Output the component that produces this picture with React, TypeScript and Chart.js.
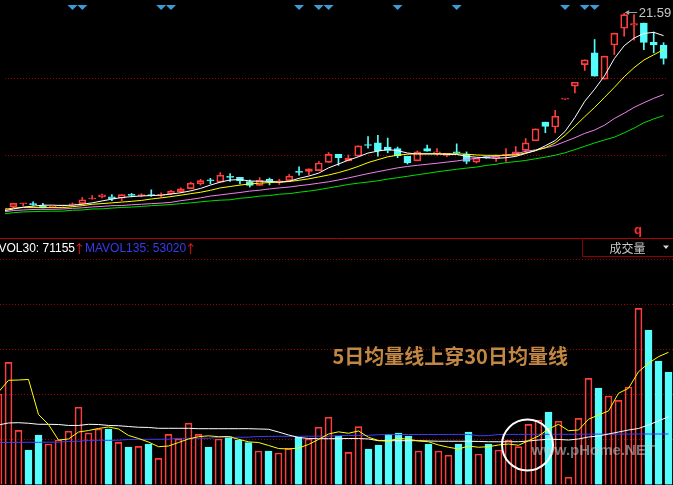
import { useEffect, useRef } from 'react';
import { Chart, registerables } from 'chart.js';

Chart.register(...registerables);

// Daily K-line data (68 sessions)
const opens = [
  6.28, 6.45, 6.69, 6.65, 6.55, 6.40, 6.53, 6.60, 6.70, 7.06,
  7.23, 7.23, 7.12, 7.39, 7.32, 7.36, 7.34, 7.48, 7.63, 7.87,
  8.25, 8.53, 8.38, 8.79, 8.75, 8.43, 8.13, 8.60, 8.41, 8.50,
  9.20, 9.22, 9.28, 9.93, 10.55, 10.05, 10.42, 11.30, 11.45, 11.13,
  11.00, 10.40, 10.05, 11.00, 10.63, 10.48, 10.75, 10.57, 9.95, 10.38,
  10.25, 10.48, 10.50, 10.87, 11.62, 13.08, 12.70, 14.88, 15.90, 17.58,
  18.50, 16.45, 19.12, 20.43, 20.68, 20.83, 19.33, 19.12,
];
const highs = [
  6.43, 6.73, 6.72, 6.85, 6.72, 6.46, 6.58, 6.75, 7.18, 7.33,
  7.45, 7.40, 7.40, 7.50, 7.48, 7.78, 7.55, 7.75, 7.93, 8.38,
  8.60, 8.68, 9.13, 9.05, 8.75, 8.55, 8.73, 8.70, 8.60, 8.98,
  9.58, 9.43, 10.00, 10.70, 10.55, 10.50, 11.23, 11.95, 12.05, 11.83,
  11.13, 10.40, 10.83, 11.28, 11.00, 10.63, 11.38, 10.75, 10.25, 10.40,
  10.50, 11.00, 11.17, 11.80, 12.55, 13.08, 14.00, 14.88, 16.20, 17.95,
  19.55, 18.25, 20.05, 21.59, 21.50, 20.83, 20.13, 19.30,
];
const lows = [
  6.20, 6.37, 6.54, 6.55, 6.37, 6.37, 6.50, 6.50, 6.63, 7.05,
  7.15, 6.93, 6.93, 7.23, 7.23, 7.27, 7.23, 7.40, 7.55, 7.87,
  8.15, 8.25, 8.38, 8.43, 8.25, 8.00, 8.13, 8.17, 8.20, 8.43,
  8.92, 8.95, 9.28, 9.93, 9.70, 10.05, 10.42, 11.05, 10.42, 10.68,
  10.30, 9.80, 10.05, 10.80, 10.50, 10.38, 10.63, 9.82, 9.88, 10.25,
  10.00, 10.00, 10.48, 10.70, 11.62, 12.25, 12.25, 14.88, 15.37, 17.13,
  16.68, 16.45, 18.37, 19.80, 19.50, 18.75, 18.50, 17.62,
];
const closes = [
  6.35, 6.72, 6.70, 6.62, 6.37, 6.43, 6.55, 6.67, 7.00, 7.08,
  7.38, 7.08, 7.40, 7.34, 7.36, 7.33, 7.42, 7.66, 7.85, 8.30,
  8.50, 8.49, 8.92, 8.75, 8.50, 8.13, 8.53, 8.43, 8.49, 8.85,
  9.15, 9.43, 9.88, 10.55, 10.30, 10.25, 11.22, 11.25, 10.85, 10.87,
  10.45, 9.90, 10.75, 10.80, 10.75, 10.63, 10.68, 10.00, 10.25, 10.27,
  10.42, 10.51, 10.75, 11.45, 12.55, 12.75, 13.55, 14.88, 16.20, 17.95,
  16.68, 18.25, 20.05, 21.50, 20.80, 19.33, 19.12, 18.07,
];

// Price moving averages
const ma5 = [
  6.13, 6.28, 6.43, 6.50, 6.58, 6.58, 6.55, 6.58, 6.65, 6.76,
  6.91, 7.05, 7.18, 7.25, 7.30, 7.33, 7.36, 7.45, 7.55, 7.70,
  7.89, 8.15, 8.38, 8.55, 8.58, 8.47, 8.45, 8.45, 8.38, 8.45,
  8.68, 8.86, 9.09, 9.50, 9.80, 10.10, 10.36, 10.66, 10.81, 10.93,
  10.85, 10.66, 10.59, 10.59, 10.59, 10.55, 10.55, 10.40, 10.33, 10.29,
  10.25, 10.29, 10.40, 10.63, 10.85, 11.23, 11.64, 12.35, 13.44, 14.71,
  15.65, 16.70, 18.05, 19.06, 19.66, 20.02, 20.11, 19.85,
];
const ma10 = [
  6.24, 6.35, 6.39, 6.39, 6.39, 6.39, 6.39, 6.46, 6.54, 6.65,
  6.70, 6.76, 6.82, 6.88, 6.95, 7.06, 7.15, 7.25, 7.36, 7.48,
  7.59, 7.74, 7.93, 8.04, 8.15, 8.24, 8.30, 8.35, 8.38, 8.43,
  8.53, 8.64, 8.79, 8.94, 9.13, 9.35, 9.61, 9.91, 10.14, 10.36,
  10.49, 10.57, 10.60, 10.60, 10.60, 10.60, 10.60, 10.57, 10.51, 10.48,
  10.48, 10.48, 10.51, 10.66, 10.85, 11.08, 11.45, 12.05, 12.76, 13.51,
  14.23, 15.01, 15.80, 16.63, 17.34, 17.94, 18.35, 18.76,
];
const ma20 = [
  6.05, 6.16, 6.20, 6.24, 6.25, 6.25, 6.28, 6.33, 6.37, 6.44,
  6.48, 6.54, 6.55, 6.61, 6.65, 6.70, 6.74, 6.80, 6.93, 7.03,
  7.15, 7.29, 7.38, 7.48, 7.57, 7.68, 7.75, 7.85, 7.93, 8.00,
  8.10, 8.19, 8.30, 8.41, 8.55, 8.71, 8.88, 9.05, 9.20, 9.35,
  9.50, 9.61, 9.70, 9.78, 9.86, 9.95, 10.04, 10.15, 10.25, 10.35,
  10.40, 10.51, 10.60, 10.79, 10.91, 11.06, 11.26, 11.56, 11.86, 12.20,
  12.46, 12.84, 13.36, 13.78, 14.23, 14.60, 14.94, 15.24,
];
const ma60 = [
  5.90, 5.99, 6.05, 6.07, 6.10, 6.11, 6.11, 6.18, 6.20, 6.28,
  6.29, 6.35, 6.40, 6.43, 6.48, 6.54, 6.58, 6.63, 6.70, 6.76,
  6.84, 6.91, 6.97, 7.00, 7.12, 7.18, 7.29, 7.33, 7.44, 7.48,
  7.59, 7.68, 7.79, 7.93, 8.06, 8.20, 8.30, 8.39, 8.49, 8.62,
  8.73, 8.84, 8.96, 9.07, 9.19, 9.29, 9.39, 9.48, 9.56, 9.69,
  9.78, 9.91, 9.99, 10.08, 10.21, 10.34, 10.49, 10.68, 10.93, 11.19,
  11.45, 11.68, 11.90, 12.24, 12.61, 13.03, 13.33, 13.59,
];

// Sessions flagged by the signal markers along the top edge
const signalDays = [7, 8, 16, 17, 30, 32, 33, 40, 46, 57, 59, 60];

// Volume and volume moving averages
const volumes = [
  95000, 128300, 56900, 36200, 52000, 42500, 46700, 55900, 81100, 54100,
  58300, 58300, 44300, 39400, 40100, 42500, 27500, 52700, 47800, 64300,
  52700, 39400, 47800, 50200, 46700, 43900, 35200, 35200, 33100, 38000,
  49900, 47800, 60100, 70600, 50900, 33800, 60700, 37300, 41500, 52700,
  54100, 50900, 35200, 42500, 35200, 30700, 42500, 55100, 32000, 42500,
  36200, 46700, 39700, 63200, 67700, 76100, 66400, 7600, 69500, 111500,
  101300, 92900, 88400, 102400, 185000, 162200, 129700, 118100,
];
const volMa5 = [
  97100, 109400, 109700, 110300, 73500, 63000, 46700, 47800, 55100, 56700,
  58800, 60400, 58300, 51500, 48300, 44600, 39700, 40400, 44100, 47800,
  50200, 51100, 50200, 50400, 47500, 44800, 44100, 41000, 37800, 37300,
  38300, 42000, 47300, 53000, 55300, 53800, 56200, 49600, 46200, 45700,
  48500, 47500, 45700, 44900, 41500, 39100, 37300, 40400, 39100, 39700,
  41500, 42500, 41200, 46000, 50900, 58300, 63200, 56500, 57200, 68500,
  73000, 77200, 95800, 101000, 118400, 127300, 134200, 138800,
];
const volMa30 = [
  62500, 64600, 64900, 64300, 63200, 63200, 63000, 62000, 62000, 63200,
  63000, 62000, 61700, 60900, 60100, 59900, 59000, 59000, 59000, 59000,
  58600, 58600, 58600, 58600, 58600, 58600, 58300, 58000, 55100, 52000,
  49400, 48300, 48100, 48100, 48100, 48300, 48300, 47800, 46000, 46000,
  46000, 46000, 46000, 45700, 45400, 45400, 45400, 45400, 45200, 44900,
  44900, 44900, 44900, 45700, 46700, 47500, 47300, 46700, 47800, 49900,
  50900, 53000, 55100, 57200, 58800, 62500, 66700, 71155,
];
const volMa135 = [
  44100, 44100, 44200, 44300, 44300, 44400, 44400, 45200, 45400, 46300,
  46400, 46400, 46500, 47300, 47400, 47500, 47500, 47600, 48400, 48500,
  48500, 48600, 49500, 49600, 49600, 49700, 50400, 50500, 50600, 50600,
  50600, 50700, 50700, 50800, 51300, 51500, 51500, 51600, 52300, 52400,
  52400, 52500, 52500, 52500, 52500, 52600, 52600, 52600, 51200, 51300,
  52500, 52600, 52600, 52600, 52700, 52700, 52700, 52700, 52800, 52800,
  52900, 52900, 52900, 52900, 53000, 53000, 53010, 53020,
];

// Grid levels and axis ranges
const priceGridTicks = [10.45, 16.5];
const volumeGridTicks = [47250, 94500, 141750, 189000, 236250];
const priceMin = 4.4;
const priceMax = 22.25;
const volumeMin = -525;
const volumeMax = 258825;
const dayMin = 0.15;
const dayMax = 67.45;

// Golden-cross highlight on the volume averages
const crossDay = 52.9;
const crossVolume = 41500;
const crossNote = '5日均量线上穿30日均量线';

const UP = '#ff3d3d';
const DOWN = '#54fcfc';
const GRID = '#a00000';
const SANS = '"Liberation Sans", Arial, sans-serif';
const CJK = '"Noto Sans CJK SC", sans-serif';

const days = closes.map((_, i) => i);
const isUp = (i: number) => closes[i] >= opens[i];
const candleColor = (i: number) => (isUp(i) ? UP : DOWN);
const hollowFill = (i: number) => (isUp(i) ? 'rgba(0,0,0,0)' : DOWN);

const xAxis = { type: 'linear', min: dayMin, max: dayMax, offset: false, display: false };

function lineSet(label: string, values: number[], color: string) {
  return {
    type: 'line',
    label,
    data: days.map((i) => ({ x: i, y: values[i] })),
    borderColor: color,
    borderWidth: 1,
    pointRadius: 0,
    tension: 0,
    order: 1,
  };
}

const barBase = { type: 'bar', grouped: false, barPercentage: 1, categoryPercentage: 1 };

function dottedRows(chart: any, ticks: number[]) {
  const { ctx, chartArea, scales } = chart;
  ctx.save();
  ctx.strokeStyle = GRID;
  ctx.lineWidth = 1;
  ctx.setLineDash([1, 2]);
  for (const t of ticks) {
    const py = Math.floor(scales.y.getPixelForValue(t)) + 0.5;
    ctx.beginPath();
    ctx.moveTo(chartArea.left, py);
    ctx.lineTo(chartArea.right, py);
    ctx.stroke();
  }
  ctx.restore();
}

const priceDecor = {
  id: 'priceDecor',
  beforeDatasetsDraw(chart: any) {
    dottedRows(chart, priceGridTicks);
  },
  afterDraw(chart: any) {
    const { ctx, scales } = chart;
    const top = Math.max(...highs);
    const at = highs.indexOf(top);
    const px = scales.x.getPixelForValue(at);
    const py = scales.y.getPixelForValue(top) - 1.5;
    ctx.save();
    // pointer to the highest price
    ctx.strokeStyle = '#a0a0a0';
    ctx.fillStyle = '#a0a0a0';
    ctx.lineWidth = 1;
    const ly = Math.round(py) + 0.5;
    ctx.beginPath();
    ctx.moveTo(px + 4, ly);
    ctx.lineTo(px + 13, ly);
    ctx.stroke();
    ctx.beginPath();
    ctx.moveTo(px + 0.5, ly);
    ctx.lineTo(px + 5, ly - 2.5);
    ctx.lineTo(px + 5, ly + 2.5);
    ctx.closePath();
    ctx.fill();
    ctx.fillStyle = '#c8c8c8';
    ctx.font = `13px ${SANS}`;
    ctx.textAlign = 'left';
    ctx.textBaseline = 'middle';
    ctx.fillText(top.toFixed(2), px + 14.5, ly + 0.5);
    ctx.fillStyle = '#ff2a2a';
    ctx.font = `bold 13px ${SANS}`;
    ctx.textBaseline = 'alphabetic';
    ctx.fillText('q', 634, 234);
    ctx.restore();
  },
};

const volumeDecor = {
  id: 'volumeDecor',
  beforeDatasetsDraw(chart: any) {
    dottedRows(chart, volumeGridTicks);
  },
  afterDraw(chart: any) {
    const { ctx, scales, width } = chart;
    const last = volMa30.length - 1;
    ctx.save();
    // panel separator
    ctx.strokeStyle = '#b00000';
    ctx.lineWidth = 1;
    ctx.beginPath();
    ctx.moveTo(0, 0.5);
    ctx.lineTo(width, 0.5);
    ctx.stroke();
    // indicator selector
    ctx.strokeStyle = '#8c0000';
    ctx.beginPath();
    ctx.moveTo(582.5, 0);
    ctx.lineTo(582.5, 18.5);
    ctx.lineTo(width, 18.5);
    ctx.stroke();
    ctx.fillStyle = '#c8c8c8';
    ctx.font = `12px ${CJK}`;
    ctx.textAlign = 'center';
    ctx.textBaseline = 'middle';
    ctx.fillText('成交量', 627.5, 10);
    ctx.fillStyle = '#d8d8d8';
    ctx.beginPath();
    ctx.moveTo(663, 7.5);
    ctx.lineTo(669, 7.5);
    ctx.lineTo(666, 11);
    ctx.closePath();
    ctx.fill();

    // indicator values
    const y = 10.5;
    ctx.font = `12px ${SANS}`;
    ctx.textAlign = 'left';
    const t30 = `MAVOL30: ${volMa30[last]}`;
    ctx.fillStyle = '#ffffff';
    ctx.fillText(t30, 75 - ctx.measureText(t30).width, y);
    const t135 = `MAVOL135: ${volMa135[last]}`;
    ctx.fillStyle = '#3a3aee';
    ctx.fillText(t135, 85, y);
    const end135 = 85 + ctx.measureText(t135).width;
    ctx.fillStyle = '#ff2020';
    ctx.font = `12px ${CJK}`;
    ctx.textAlign = 'center';
    ctx.fillText('↑', 79.2, y + 0.5);
    ctx.fillText('↑', end135 + 4.5, y + 0.5);

    // crossover note and highlight
    ctx.textAlign = 'left';
    ctx.fillStyle = '#c28744';
    ctx.font = `bold 20px ${CJK}`;
    ctx.textBaseline = 'middle';
    ctx.fillText(crossNote, 332.5, 118.5);

    const ccx = scales.x.getPixelForValue(crossDay);
    const ccy = scales.y.getPixelForValue(crossVolume);
    ctx.strokeStyle = '#ffffff';
    ctx.lineWidth = 2;
    ctx.beginPath();
    ctx.arc(ccx, ccy, 25.5, 0, Math.PI * 2);
    ctx.stroke();

    ctx.fillStyle = 'rgba(205,205,205,0.55)';
    ctx.font = `bold 15px ${SANS}`;
    ctx.fillText('www.pHome.NET', 531.5, 213);
    ctx.restore();
  },
};

function priceConfig(): any {
  return {
    type: 'bar',
    data: {
      datasets: [
        lineSet('MA5', ma5, '#ffffff'),
        lineSet('MA10', ma10, '#ffff00'),
        lineSet('MA20', ma20, '#ee82ee'),
        lineSet('MA60', ma60, '#00e000'),
        {
          type: 'line',
          label: 'signal',
          data: signalDays.map((d) => ({ x: d, y: priceMax })),
          showLine: false,
          pointStyle: 'rectRot',
          pointRadius: 5,
          pointBackgroundColor: '#3c9bd4',
          pointBorderColor: '#3c9bd4',
          pointBorderWidth: 0,
          clip: 0,
          order: 0,
        },
        {
          ...barBase,
          label: 'upper shadow',
          data: days.map((i) => ({ x: i, y: [Math.max(opens[i], closes[i]), highs[i]] })),
          backgroundColor: days.map(candleColor),
          borderWidth: 0,
          maxBarThickness: 1,
          order: 4,
        },
        {
          ...barBase,
          label: 'lower shadow',
          data: days.map((i) => ({ x: i, y: [lows[i], Math.min(opens[i], closes[i])] })),
          backgroundColor: days.map(candleColor),
          borderWidth: 0,
          maxBarThickness: 1,
          order: 4,
        },
        {
          ...barBase,
          label: 'body',
          data: days.map((i) => ({ x: i, y: [opens[i], closes[i]] })),
          backgroundColor: days.map(hollowFill),
          borderColor: days.map(candleColor),
          borderWidth: 1,
          borderSkipped: false,
          minBarLength: 1,
          maxBarThickness: 7,
          order: 3,
        },
      ],
    },
    options: {
      responsive: false,
      animation: false,
      events: [],
      layout: { padding: 0 },
      plugins: { legend: { display: false }, tooltip: { enabled: false } },
      scales: {
        x: xAxis,
        y: { type: 'linear', min: priceMin, max: priceMax, display: false },
      },
    },
    plugins: [priceDecor],
  };
}

function volumeConfig(): any {
  return {
    type: 'bar',
    data: {
      datasets: [
        lineSet('MAVOL5', volMa5, '#ffff00'),
        lineSet('MAVOL30', volMa30, '#ffffff'),
        lineSet('MAVOL135', volMa135, '#3c3cff'),
        {
          ...barBase,
          label: 'VOL',
          data: days.map((i) => ({ x: i, y: volumes[i] })),
          backgroundColor: days.map(hollowFill),
          borderColor: days.map(candleColor),
          borderWidth: 1,
          maxBarThickness: 7,
          order: 3,
        },
      ],
    },
    options: {
      responsive: false,
      animation: false,
      events: [],
      layout: { padding: 0 },
      plugins: { legend: { display: false }, tooltip: { enabled: false } },
      scales: {
        x: xAxis,
        y: { type: 'linear', min: volumeMin, max: volumeMax, display: false },
      },
    },
    plugins: [volumeDecor],
  };
}

export default function App() {
  const priceRef = useRef<HTMLCanvasElement>(null);
  const volumeRef = useRef<HTMLCanvasElement>(null);

  useEffect(() => {
    const price = new Chart(priceRef.current as HTMLCanvasElement, priceConfig());
    const volume = new Chart(volumeRef.current as HTMLCanvasElement, volumeConfig());
    return () => {
      price.destroy();
      volume.destroy();
    };
  }, []);

  return (
    <div
      style={{
        position: 'fixed',
        left: 0,
        top: 0,
        width: 673,
        height: 485,
        background: '#000',
        overflow: 'hidden',
      }}
    >
      <canvas
        ref={priceRef}
        width={673}
        height={238}
        style={{ position: 'absolute', left: 0, top: 0, width: 673, height: 238 }}
      />
      <canvas
        ref={volumeRef}
        width={673}
        height={247}
        style={{ position: 'absolute', left: 0, top: 238, width: 673, height: 247 }}
      />
    </div>
  );
}
